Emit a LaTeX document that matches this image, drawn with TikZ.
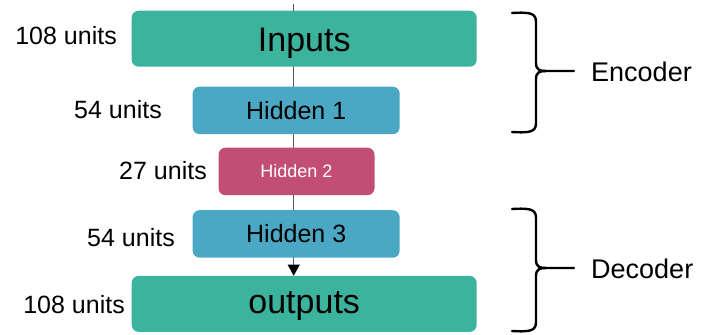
\documentclass[tikz,border=0pt]{standalone}
\usepackage{fontspec}
\setmainfont{Liberation Sans}
\usetikzlibrary{arrows.meta}
\definecolor{cgreen}{HTML}{3CB39D}
\definecolor{cblue}{HTML}{4BA8C4}
\definecolor{cpink}{HTML}{C24E76}
\pgfdeclarelayer{background}
\pgfsetlayers{background,main}
\begin{document}
\begin{tikzpicture}[x=1pt,y=-1pt,
  box/.style={rounded corners=7pt, inner sep=0pt, anchor=north west},
  lbl/.style={anchor=east, inner sep=0pt, font=\fontsize{25}{27}\selectfont},
  brace/.style={line width=2.4pt, line cap=round, line join=round},
  side/.style={anchor=west, inner sep=0pt, font=\fontsize{27}{29}\selectfont},
  conn/.style={draw=black!65, line width=0.8pt}]
\useasboundingbox (0,0) rectangle (708,334);
\coordinate (top) at (293.7,4);
% boxes
\node[box, fill=cgreen, minimum width=345pt, minimum height=56pt] (in) at (131.5,10.5) {};
\node[box, fill=cblue, minimum width=207pt, minimum height=47.5pt] (h1) at (192.5,86.5) {};
\node[box, fill=cpink, minimum width=156pt, minimum height=47.5pt] (h2) at (218.3,147.5) {};
\node[box, fill=cblue, minimum width=207pt, minimum height=47.5pt] (h3) at (192.5,210) {};
\node[box, fill=cgreen, minimum width=345pt, minimum height=56pt] (out) at (131.5,275.7) {};
% connector behind boxes
\begin{pgfonlayer}{background}
\draw[conn] (top) -- (h3.south -| top);
\end{pgfonlayer}
\draw[conn, arrows={-{Triangle[width=12pt,length=11pt,color=black]}}] (h3.south -| top) -- (out.north -| top);
% texts
\node[font=\fontsize{34}{36}\selectfont] (tin) at ([yshift=-4.5pt]in.center) {Inputs};
\node[font=\fontsize{25}{27}\selectfont] (th1) at (h1.center) {Hidden 1};
\node[font=\fontsize{18}{20}\selectfont, text=white] (th2) at (h2.center) {Hidden 2};
\node[font=\fontsize{25}{27}\selectfont] (th3) at (h3.center) {Hidden 3};
\node[font=\fontsize{34}{36}\selectfont] (tout) at ([yshift=-2pt]out.center) {outputs};
% unit labels
\node[lbl] (l1) at (117,36) {108 units};
\node[lbl] (l2) at (162,110) {54 units};
\node[lbl] (l3) at (207,171) {27 units};
\node[lbl] (l4) at (175,238) {54 units};
\node[lbl] (l5) at (125,305) {108 units};
% braces
\draw[brace] (512,13) .. controls (530,12) and (536,13) .. (536,22) -- (536,63)
  .. controls (536,70) and (540,71) .. (546,71) -- (574,71);
\draw[brace] (512,132) .. controls (530,133) and (536,132) .. (536,123) -- (536,79)
  .. controls (536,72) and (540,71) .. (546,71);
\draw[brace] (512,209) .. controls (530,208) and (536,209) .. (536,218) -- (536,260)
  .. controls (536,267) and (540,268) .. (546,268) -- (574,268);
\draw[brace] (512,331) .. controls (530,332) and (536,331) .. (536,322) -- (536,276)
  .. controls (536,269) and (540,268) .. (546,268);
\node[side] (enc) at (591,72) {Encoder};
\node[side] (dec) at (591,269) {Decoder};
\end{tikzpicture}
\end{document}
